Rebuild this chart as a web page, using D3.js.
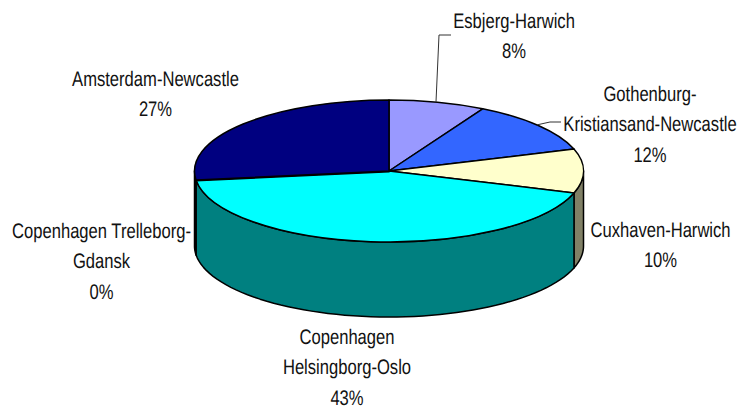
<!DOCTYPE html>
<meta charset="utf-8">
<style>
    html, body {
        margin: 0;
        background: #fff;
    }
    text {
        font-family: "Liberation Sans", Arial, sans-serif;
        font-size: 21px;
        fill: #111;
        text-anchor: middle;
        text-rendering: geometricPrecision;
    }
    .slice, .wall {
        stroke: #000;
        stroke-width: 1.5;
        stroke-linejoin: round;
        vector-effect: non-scaling-stroke;
    }
    .leader {
        fill: none;
        stroke: #333;
        stroke-width: 1;
    }
</style>

<body>
    <script src="https://d3js.org/d3.v7.min.js"></script>
    <script>
        var routes = ['Esbjerg-Harwich', 'Gothenburg-Kristiansand-Newcastle', 'Cuxhaven-Harwich',
            'Copenhagen Helsingborg-Oslo', 'Copenhagen Trelleborg-Gdansk', 'Amsterdam-Newcastle']
        var shares = [8, 12, 10, 43, 0, 27]
        var topColors = ['#9999ff', '#3366ff', '#ffffcc', '#00ffff', '#800080', '#000080']
        var wallColors = ['#4d4d80', '#1a3380', '#808066', '#008080', '#400040', '#000040']

        var labelLines = [
            ['Esbjerg-Harwich', '8%'],
            ['Gothenburg-', 'Kristiansand-Newcastle', '12%'],
            ['Cuxhaven-Harwich', '10%'],
            ['Copenhagen', 'Helsingborg-Oslo', '43%'],
            ['Copenhagen Trelleborg-', 'Gdansk', '0%'],
            ['Amsterdam-Newcastle', '27%']
        ]
        var labelAt = [[514, 28], [650, 101], [660.5, 237], [347, 344], [101.5, 238], [155.5, 86]]

        var width = 741
        var height = 409
        var cx = 389
        var cy = 171
        var rx = 194.5
        var ry = 71
        var depth = 75
        var lineGap = 30.4
        var textSquash = 0.79

        var svg = d3.select('body')
            .append('svg')
            .attr('width', width)
            .attr('height', height)
            .style('display', 'block')

        var slices = d3.pie().sort(null)(shares)

        function rimX(a) { return cx + rx * Math.sin(a) }
        function rimY(a) { return cy - ry * Math.cos(a) }

        // only the part of the rim facing us gets a wall
        function wallPath(d) {
            var from = Math.max(d.startAngle, Math.PI / 2)
            var to = Math.min(d.endAngle, Math.PI * 3 / 2)
            if (to <= from) { return null }
            var angles = d3.range(0, 61).map(function (i) { return from + (to - from) * i / 60 })
            var rim = angles.map(function (a) { return [rimX(a), rimY(a)] })
            var bottom = angles.slice().reverse().map(function (a) { return [rimX(a), rimY(a) + depth] })
            return d3.line()(rim.concat(bottom)) + 'Z'
        }

        svg.selectAll('.wall')
            .data(slices)
            .enter().append('path')
            .attr('class', 'wall')
            .attr('d', wallPath)
            .style('fill', function (d, i) { return wallColors[i] })

        var arc = d3.arc().innerRadius(0).outerRadius(rx)

        svg.append('g')
            .attr('transform', 'translate(' + cx + ',' + cy + ') scale(1,' + ry / rx + ')')
            .selectAll('.slice')
            .data(slices)
            .enter().append('path')
            .attr('class', 'slice')
            .attr('d', arc)
            .style('fill', function (d, i) { return topColors[i] })
            .style('stroke-width', function (d) { return d.value === 0 ? 3 : null })

        // leader lines for the two labels pulled away from the pie
        svg.append('path')
            .attr('class', 'leader')
            .attr('d', d3.line()([[rimX(0.244), rimY(0.244)], [439, 35], [451, 35]]))
        svg.append('path')
            .attr('class', 'leader')
            .attr('d', d3.line()([[rimX(0.864), rimY(0.864)], [550, 122], [561, 122]]))

        labelLines.forEach(function (lines, i) {
            var label = svg.append('text')
                .attr('transform', 'translate(' + labelAt[i][0] + ',' + labelAt[i][1] + ') scale(' + textSquash + ',1)')
            lines.forEach(function (line, k) {
                label.append('tspan')
                    .attr('x', 0)
                    .attr('y', k * lineGap)
                    .text(line)
            })
        })
    </script>
</body>
